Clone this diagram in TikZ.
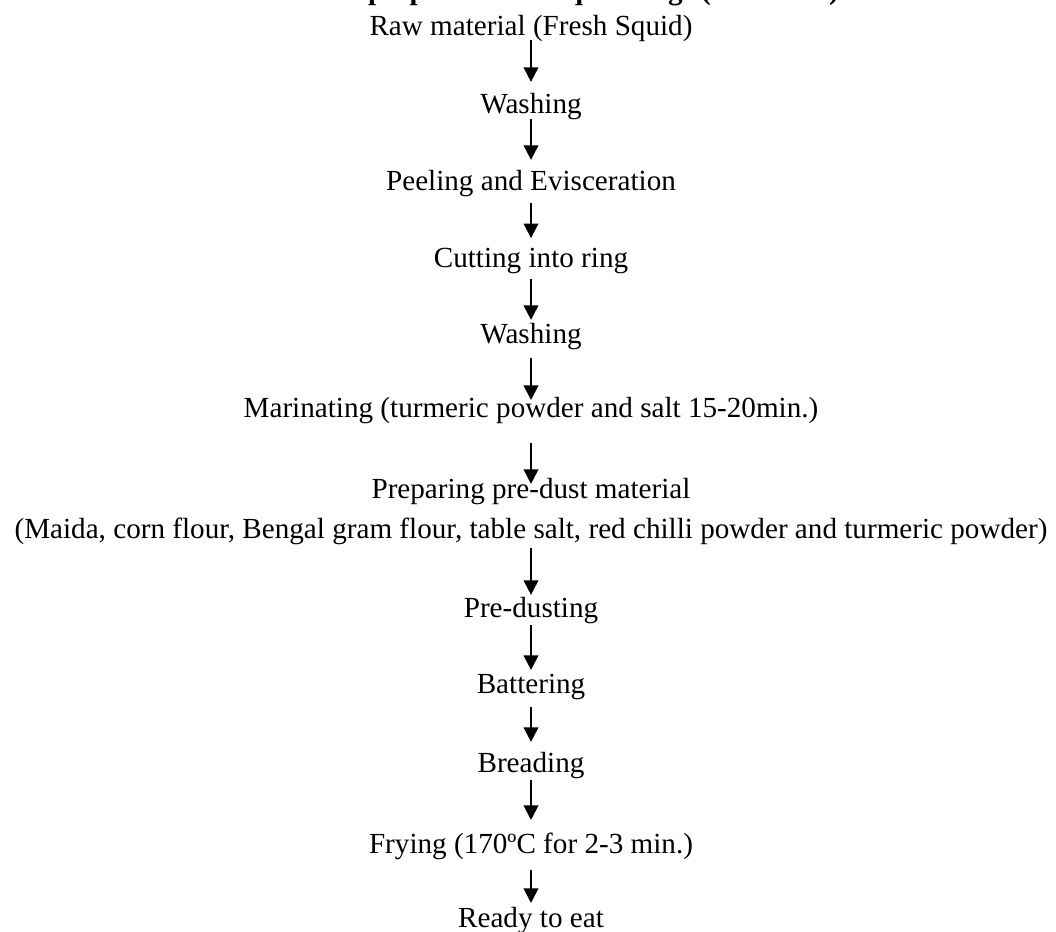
\documentclass[tikz,border=0pt]{standalone}
\usepackage{fontspec}
\setmainfont{Liberation Serif}
\usetikzlibrary{arrows.meta}

\begin{document}
\begin{tikzpicture}[x=0.4117pt,y=-0.4117pt,every node/.style={anchor=base,inner sep=0pt,font=\fontsize{12}{14}\selectfont},flow/.style={-{Triangle[length=6pt,width=6pt]},line width=0.8pt}]
\useasboundingbox (0,0) rectangle (1056,931);
\node[font=\fontsize{12}{14}\selectfont\bfseries] (title) at (510,-1) {Flow chart for preparation of squid rings (Calamari)};
\node (raw) at (531,35) {Raw material (Fresh Squid)};
\node (wash1) at (531,113) {Washing};
\node (peel) at (531,190) {Peeling and Evisceration};
\node (cut) at (531,267) {Cutting into ring};
\node (wash2) at (531,343) {Washing};
\node (marinate) at (531,417) {Marinating (turmeric powder and salt 15-20min.)};
\node (predust) at (531,498) {Preparing pre-dust material};
\node (mix) at (531,538) {(Maida, corn flour, Bengal gram flour, table salt, red chilli powder and turmeric powder)};
\node (dusting) at (531,617) {Pre-dusting};
\node (batter) at (531,693) {Battering};
\node (bread) at (531,772) {Breading};
\node (fry) at (531,853) {Frying (170ºC for 2-3 min.)};
\node (ready) at (531,927) {Ready to eat};
\draw[flow,shorten <=2.1pt,shorten >=12.8pt] (raw.base) -- (wash1.base);
\draw[flow,shorten <=2.5pt,shorten >=12.4pt] (wash1.base) -- (peel.base);
\draw[flow,shorten <=5.3pt,shorten >=11.9pt] (peel.base) -- (cut.base);
\draw[flow,shorten <=4.9pt,shorten >=9.5pt] (cut.base) -- (wash2.base);
\draw[flow,shorten <=6.2pt,shorten >=7pt] (wash2.base) -- (marinate.base);
\draw[flow,shorten <=10.7pt,shorten >=5.8pt] (marinate.base) -- (predust.base);
\draw[flow,shorten <=4.1pt,shorten >=9.1pt] (mix.base) -- (dusting.base);
\draw[flow,shorten <=3.3pt,shorten >=9.5pt] (dusting.base) -- (batter.base);
\draw[flow,shorten <=5.8pt,shorten >=12.4pt] (batter.base) -- (bread.base);
\draw[flow,shorten <=3.3pt,shorten >=13.6pt] (bread.base) -- (fry.base);
\draw[flow,shorten <=7pt,shorten >=9.9pt] (fry.base) -- (ready.base);
\end{tikzpicture}
\end{document}
